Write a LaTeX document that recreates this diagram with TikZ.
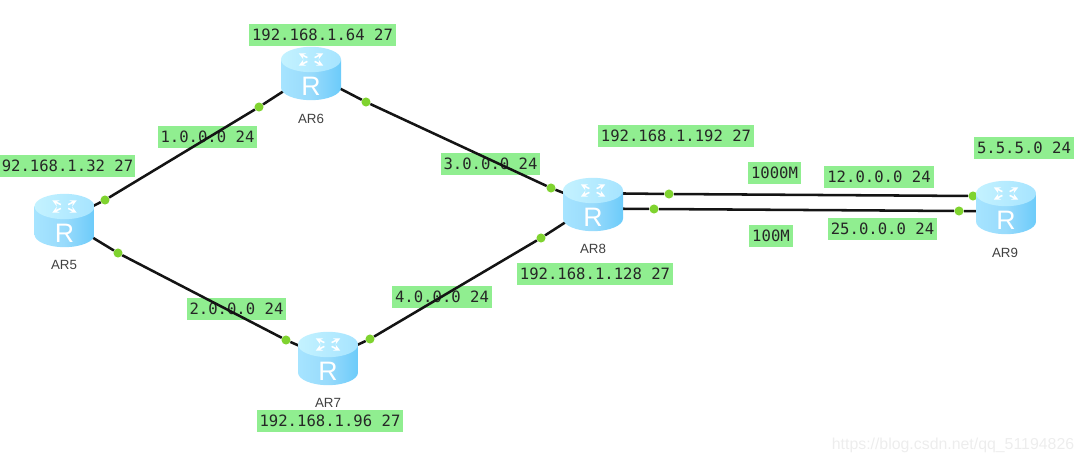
\documentclass[tikz,border=0pt]{standalone}
\usepackage{fontspec}
\setmainfont{Liberation Sans}
\newfontfamily\labelfont{DejaVu Sans Mono}
\usetikzlibrary{backgrounds}
\definecolor{labelgreen}{HTML}{90EE90}
\definecolor{portgreen}{HTML}{7FD32F}
\definecolor{wirecol}{HTML}{141414}
\definecolor{routerdark}{HTML}{6CCBFA}
\definecolor{routermid}{HTML}{A6E4FF}
\definecolor{routertop}{HTML}{C4F2FF}
\tikzset{
    routerbox/.style={minimum width=45pt, minimum height=40.5pt, inner sep=0pt, path picture={
        \begin{scope}[shift={(path picture bounding box.center)}]
            \shade[left color=routermid, right color=routerdark, middle color=routerdark!70!white]
                (-30,-14) -- (-30,14) arc[start angle=180, end angle=360, x radius=22.5pt, y radius=9.5pt]
                -- (30,-14) -- cycle;
            \shade[left color=routertop, right color=routermid]
                (0,-14) ellipse[x radius=22.5pt, y radius=9.5pt];
            \foreach \ang in {40,140,220,320}
                \draw[white, line width=1.2pt, -stealth] (0,-14) ++(\ang:3.5pt and 2.2pt) -- ++(\ang:8.5pt and 5pt);
            \node[text=white, font=\fontsize{20}{20}\selectfont] (rlogo) at (0,13) {R};
        \end{scope}}},
    netlabel/.style={fill=labelgreen, text=black!85, inner sep=0pt, minimum height=16.5pt,
        font=\labelfont\fontsize{11.7}{12}\selectfont},
    portdot/.style={circle, fill=portgreen, inner sep=0pt, minimum size=6.8pt},
    wire/.style={draw=wirecol, line width=1.9pt},
    stub/.style={wire, shorten <=-6pt},
    devname/.style={text=black!75, font=\fontsize{10}{12}\selectfont},
}
\begin{document}
\begin{tikzpicture}[x=0.75pt, y=-0.75pt]
    \useasboundingbox (0,0) rectangle (1084,464);
    % routers
    \node[routerbox] (ar5) at (64.5,220.5) {};
    \node[routerbox] (ar6) at (311,73.5) {};
    \node[routerbox] (ar7) at (328,358.5) {};
    \node[routerbox] (ar8) at (593,204.5) {};
    \node[routerbox] (ar9) at (1006,207.5) {};
    \node[devname] (ar5name) at (64,265) {AR5};
    \node[devname] (ar6name) at (311,119) {AR6};
    \node[devname] (ar7name) at (328,403) {AR7};
    \node[devname] (ar8name) at (593,249) {AR8};
    \node[devname] (ar9name) at (1005,253) {AR9};
    \begin{scope}[on background layer]
        % networks
        \node[netlabel, minimum width=110.2pt] (net64) at (322.5,34.5) {192.168.1.64 27};
        \node[netlabel, minimum width=74.2pt] (net1) at (207.5,137) {1.0.0.0 24};
        \node[netlabel, minimum width=101.2pt] (net32) at (67.5,166) {92.168.1.32 27};
        \node[netlabel, minimum width=74.2pt] (net3) at (490.5,164) {3.0.0.0 24};
        \node[netlabel, minimum width=74.2pt] (net2) at (236.5,309) {2.0.0.0 24};
        \node[netlabel, minimum width=75pt] (net4) at (442,297) {4.0.0.0 24};
        \node[netlabel, minimum width=109.5pt] (net96) at (330,421) {192.168.1.96 27};
        \node[netlabel, minimum width=117pt] (net192) at (676,136) {192.168.1.192 27};
        \node[netlabel, minimum width=117pt] (net128) at (595,274) {192.168.1.128 27};
        \node[netlabel, minimum width=39.7pt] (lnk1000) at (774.5,173) {1000M};
        \node[netlabel, minimum width=33pt] (lnk100) at (771,236) {100M};
        \node[netlabel, minimum width=82.5pt] (net12) at (879,177) {12.0.0.0 24};
        \node[netlabel, minimum width=82pt] (net25) at (882.5,229) {25.0.0.0 24};
        \node[netlabel, minimum width=75pt] (net55) at (1024,148) {5.5.5.0 24};
        % interfaces
        \foreach \pname/\px/\py in {p5a/105/200, p6a/259/107, p6b/366/102, p8a/551/188,
                p5b/118/253, p7a/286/340, p7b/370/339, p8b/541/238,
                p8c/669/194, p9a/973/196, p8d/654/209, p9b/959/211}
            \node[portdot] (\pname) at (\px,\py) {};
        % links
        \draw[wire] (p5a) -- (p6a);
        \draw[wire] (p6b) -- (p8a);
        \draw[wire] (p5b) -- (p7a);
        \draw[wire] (p7b) -- (p8b);
        \draw[wire] (p8c) -- (p9a);
        \draw[wire] (p8d) -- (p9b);
        % stubs into the routers
        \foreach \rname/\pname in {ar5/p5a, ar6/p6a, ar6/p6b, ar8/p8a, ar5/p5b, ar7/p7a, ar7/p7b, ar8/p8b}
            \draw[stub] (\rname) -- (\pname);
        \draw[stub] (ar8.20) -- (p8c);
        \draw[stub] (ar8.-8) -- (p8d);
        \draw[stub] (ar9.187) -- (p9b);
    \end{scope}
    \node[text=black!7, font=\fontsize{11.9}{14}\selectfont] (mark) at (953,445) {https://blog.csdn.net/qq\_51194826};
\end{tikzpicture}
\end{document}
